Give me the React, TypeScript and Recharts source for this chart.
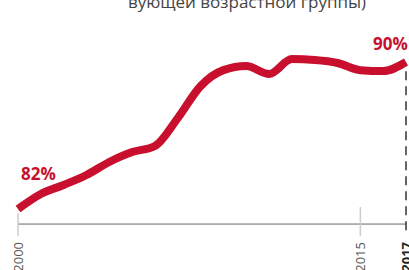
import React from "react";
import {
  LabelList,
  Line,
  LineChart,
  ReferenceLine,
  XAxis,
  YAxis,
} from "recharts";

const years = [
  2000, 2001, 2002, 2003, 2004, 2005, 2006, 2007, 2008, 2009, 2010, 2011,
  2012, 2013, 2014, 2015, 2016, 2017,
];
const share = [
  82.0, 82.82, 83.31, 83.85, 84.56, 85.1, 85.43, 86.95, 88.69, 89.56, 89.78,
  89.35, 90.16, 90.11, 89.95, 89.56, 89.51, 90.0,
];
const tickYears = [2000, 2015, 2017];
const pointLabels = ["82%", "90%"];
const titleText = "вующей возрастной группы)";

const data = years.map((year, i) => ({ year, value: share[i] }));

const RED = "#c8102e";
const FONT = "'Open Sans', sans-serif";

// rotated year labels under the axis
const YearTick = (props: any) => {
  const { x, y, payload } = props;
  const last = payload.value === 2017;
  return (
    <text
      x={x}
      y={y + 6}
      dy="0.35em"
      transform={`rotate(-90, ${x}, ${y + 6})`}
      textAnchor="end"
      fontFamily={FONT}
      fontSize={13}
      fontWeight={last ? 700 : 400}
      fill={last ? "#222" : "#555"}
    >
      {payload.value}
    </text>
  );
};

const EndLabel = (props: any) => {
  const { x, y, index } = props;
  if (index === 0) {
    return (
      <text x={x + 3} y={y - 29} fill={RED} fontFamily={FONT} fontSize={17} fontWeight={700}>
        {pointLabels[0]}
      </text>
    );
  }
  if (index === data.length - 1) {
    return (
      <text x={x - 33} y={y - 12} fill={RED} fontFamily={FONT} fontSize={17} fontWeight={700}>
        {pointLabels[1]}
      </text>
    );
  }
  return null;
};

export default function App() {
  return (
    <div style={{ position: "relative", width: 409, height: 270 }}>
      <style>{`body{margin:0}`}</style>
      <svg
        width={409}
        height={270}
        style={{ position: "absolute", left: 0, top: 0, pointerEvents: "none" }}
      >
        <text x={247} y={8} textAnchor="middle" fontFamily={FONT} fontSize={17} fill="#444">
          {titleText}
        </text>
      </svg>
      <LineChart
        width={409}
        height={270}
        data={data}
        margin={{ top: 20, right: 3, left: 18, bottom: 0 }}
      >
        <XAxis
          dataKey="year"
          type="number"
          domain={[2000, 2017]}
          ticks={tickYears}
          axisLine={false}
          tickLine={false}
          tickSize={0}
          tickMargin={0}
          height={34}
          tick={<YearTick />}
          interval={0}
        />
        <YAxis hide domain={[80.53, 92.29]} />
        <ReferenceLine y={81.18} stroke="#666" strokeWidth={1} />
        <ReferenceLine
          segment={[
            { x: 2000, y: 81.78 },
            { x: 2000, y: 80.53 },
          ]}
          stroke="#ccc"
          strokeWidth={1.5}
        />
        <ReferenceLine
          segment={[
            { x: 2015, y: 82.11 },
            { x: 2015, y: 80.53 },
          ]}
          stroke="#ccc"
          strokeWidth={1.5}
        />
        <ReferenceLine
          segment={[
            { x: 2017, y: 89.5 },
            { x: 2017, y: 80.53 },
          ]}
          stroke="#333"
          strokeWidth={1.5}
          strokeDasharray="9 6"
        />
        <Line
          type="monotone"
          dataKey="value"
          stroke={RED}
          strokeWidth={8}
          dot={false}
          isAnimationActive={false}
        >
          <LabelList dataKey="value" content={<EndLabel />} />
        </Line>
      </LineChart>
    </div>
  );
}
